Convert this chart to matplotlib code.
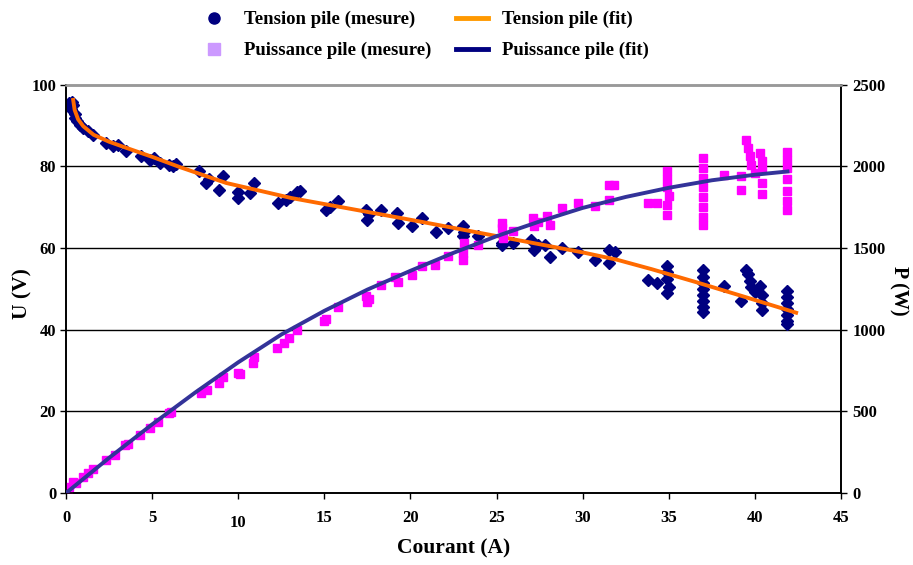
import matplotlib
matplotlib.use('Agg')
import matplotlib.pyplot as plt
from matplotlib.lines import Line2D
from matplotlib.transforms import ScaledTranslation

# ---- data ----
tension_I = [0.2, 0.25, 0.3, 0.35, 0.42, 0.5, 0.55, 0.62, 0.8, 1.0, 1.3, 1.58, 2.35, 2.72, 3.0, 3.5,
             4.38, 4.86, 5.1, 5.43, 6.0, 6.2, 6.4, 7.75, 8.13, 8.3, 8.9, 9.1, 9.96, 9.96, 10.7, 10.9,
             12.3, 12.76, 13.0, 13.4, 13.6, 15.07, 15.3, 15.8, 17.4, 17.5, 17.6, 18.3, 19.2, 19.3,
             20.1, 20.65, 21.5, 22.2, 23.06, 23.06, 23.1, 23.9, 25.3, 25.3, 25.95, 27.0, 27.2, 27.4,
             27.8, 28.1, 28.8, 29.7, 30.7, 31.5, 31.5, 31.9, 33.8, 34.3, 34.9, 34.9, 34.9, 35.0, 34.9,
             37.0, 37.0, 37.0, 37.0, 37.0, 37.0, 37.0, 37.0, 38.2, 39.2, 39.5, 39.6, 39.7, 39.8, 40.0,
             40.3, 40.4, 40.4, 40.4, 41.85, 41.85, 41.85, 41.85, 41.85, 41.85, 41.85]
tension_U = [95.5, 94.8, 93.9, 95.8, 95.1, 92.8, 91.8, 91.0, 90.2, 89.4, 88.6, 87.7, 85.7, 84.9, 85.2, 83.7,
             82.4, 81.6, 82.0, 80.8, 80.3, 80.0, 80.6, 78.8, 75.9, 76.8, 74.3, 77.5, 73.8, 72.2, 73.5, 75.9,
             71.0, 71.8, 72.5, 73.8, 73.9, 69.4, 70.0, 71.4, 69.4, 66.9, 68.2, 69.4, 68.6, 66.1,
             65.3, 67.3, 64.0, 64.9, 65.3, 62.8, 64.0, 62.8, 60.8, 61.2, 61.2, 62.0, 59.6, 60.6,
             60.8, 57.9, 60.0, 59.1, 57.1, 59.6, 56.3, 59.1, 52.2, 51.4, 55.5, 54.0, 52.5, 50.5, 48.9,
             54.7, 53.0, 51.5, 50.0, 48.5, 47.0, 45.5, 44.3, 50.6, 46.9, 54.7, 53.5, 52.0, 50.5, 49.3,
             50.6, 48.5, 46.5, 44.9, 49.5, 48.0, 46.5, 45.0, 43.5, 42.0, 41.3]

power_I = [0.0, 0.1, 0.2, 0.42, 0.6, 1.0, 1.3, 1.58, 2.35, 2.83, 3.4, 3.6, 4.28, 4.86, 5.34, 6.0, 6.1,
           7.84, 8.2, 8.9, 9.1, 9.96, 10.1, 10.83, 10.9, 12.27, 12.66, 12.95, 13.4, 14.97, 15.1, 15.8,
           17.4, 17.5, 17.6, 18.3, 19.1, 19.3, 20.1, 20.65, 21.4, 22.2, 23.06, 23.06, 23.1, 23.9,
           25.3, 25.3, 25.4, 25.95, 27.1, 27.2, 27.4, 27.9, 28.1, 28.8, 29.7, 30.7, 31.5, 31.5, 31.8,
           33.8, 34.3, 34.9, 34.9, 34.9, 35.0, 34.9, 34.9,
           37.0, 37.0, 37.0, 37.0, 37.0, 37.0, 37.0, 37.0, 38.2, 39.2, 39.2,
           39.5, 39.6, 39.7, 39.8, 40.0, 40.3, 40.4, 40.4, 40.4, 40.4,
           41.85, 41.85, 41.85, 41.85, 41.85, 41.85, 41.85]
power_P = [0, 20, 35, 69, 60, 100, 120, 145, 202, 233, 294, 300, 355, 396, 437, 488, 498,
           611, 631, 672, 712, 737, 730, 795, 835, 886, 917, 948, 999, 1050, 1065, 1141,
           1207, 1170, 1190, 1274, 1325, 1290, 1336, 1387, 1397, 1448, 1469, 1428, 1530, 1520,
           1622, 1650, 1561, 1601, 1683, 1632, 1660, 1693, 1642, 1744, 1775, 1754, 1887, 1795, 1887,
           1775, 1775, 1969, 1920, 1870, 1820, 1760, 1700,
           2051, 1990, 1930, 1870, 1810, 1750, 1690, 1640, 1948, 1938, 1857,
           2160, 2110, 2060, 2010, 1960, 2083, 2030, 1980, 1900, 1830,
           2090, 2040, 1990, 1920, 1850, 1790, 1730]

fitU_I = [0.4, 0.5, 0.7, 1.0, 1.6, 2.5, 3.5, 5.0, 6.6, 9.3, 13.1, 17.0, 20.5, 25.0, 28.0, 30.0,
          32.0, 34.0, 36.6, 39.5, 42.5]
fitU_U = [96.7, 93.8, 91.5, 89.8, 87.7, 86.0, 84.5, 82.3, 79.8, 75.9, 72.2, 69.2, 66.5, 62.9, 60.5,
          58.9, 57.1, 54.8, 51.6, 47.9, 44.0]

fitP_I = [0, 2.5, 5, 7.5, 10, 12.5, 15, 17.5, 20, 22.5, 25, 27.5, 30, 32.5, 35, 37.5, 40, 42]
fitP_P = [0, 215, 420, 615, 800, 970, 1115, 1245, 1360, 1470, 1572, 1662, 1745, 1812, 1868, 1914,
          1948, 1969]

xticks = [0, 5, 10, 15, 20, 25, 30, 35, 40, 45]
yticks_u = [0, 20, 40, 60, 80, 100]
yticks_p = [0, 500, 1000, 1500, 2000, 2500]

labels = ["Tension pile (mesure)", "Puissance pile (mesure)",
          "Tension pile (fit)", "Puissance pile (fit)"]

# ---- style ----
plt.rcParams['font.family'] = ['Liberation Serif', 'DejaVu Serif']
plt.rcParams['font.weight'] = 'bold'

fig = plt.figure(figsize=(9.13, 5.65), dpi=100)
ax = fig.add_axes([0.0723, 0.1274, 0.8489, 0.723])
ax2 = ax.twinx()

ax.set_xlim(0, 45)
ax.set_ylim(0, 100)
ax2.set_ylim(0, 2500)

for y in yticks_u[1:-1]:
    ax.axhline(y, color='black', lw=1.0, zorder=0.5)

ax.plot(tension_I, tension_U, linestyle='None', marker='D', ms=6,
        color='#000080', mec='#000080', zorder=2)
ax.plot(fitU_I, fitU_U, color='#FF6A00', lw=2.8, zorder=3, solid_capstyle='butt')

ax2.plot(power_I, power_P, linestyle='None', marker='s', ms=5.8,
         color='#FF00FF', mec='#FF00FF', zorder=2)
ax2.plot(fitP_I, fitP_P, color='#333399', lw=2.8, zorder=3, solid_capstyle='butt')

ax.set_xticks(xticks)
ax.set_yticks(yticks_u)
ax2.set_yticks(yticks_p)

ax.tick_params(axis='x', direction='out', length=4, width=1, pad=8, labelsize=12)
ax.tick_params(axis='y', direction='out', length=4, width=1, pad=3, labelsize=12)
ax2.tick_params(axis='y', direction='out', length=4, width=1, pad=4, labelsize=12)

for a in (ax, ax2):
    for s in ('left', 'bottom', 'right'):
        a.spines[s].set_color('black')
        a.spines[s].set_linewidth(1.2)
    a.spines['top'].set_color('#999999')
    a.spines['top'].set_linewidth(1.8)

# the "10" label sits a little lower in the reference
lab10 = ax.get_xticklabels()[2]
lab10.set_transform(lab10.get_transform() + ScaledTranslation(0, -4 / 72, fig.dpi_scale_trans))

ax.set_xlabel("Courant (A)", fontsize=15.5, fontweight='bold', labelpad=5)
fig.text(22 / 913, 1 - 294 / 565, "U (V)", rotation=90, ha='center', va='center',
         fontsize=15.5, fontweight='bold')
fig.text(899 / 913, 1 - 291 / 565, "P (W)", rotation=-90, ha='center', va='center',
         fontsize=14.5, fontweight='bold')

handles = [
    Line2D([], [], linestyle='None', marker='o', ms=8, color='#000080'),
    Line2D([], [], linestyle='None', marker='s', ms=8, color='#CC99FF'),
    Line2D([], [], color='#FF9900', lw=3.5),
    Line2D([], [], color='#000080', lw=3.5),
]
fig.legend(handles, labels, loc='upper left', bbox_to_anchor=(198 / 913, 1 - 11 / 565),
           ncol=2, frameon=False, fontsize=13.5, handlelength=1.7, handletextpad=0.75,
           columnspacing=1.3, labelspacing=0.72, borderpad=0, borderaxespad=0)

fig.savefig('out.png', dpi=100)
